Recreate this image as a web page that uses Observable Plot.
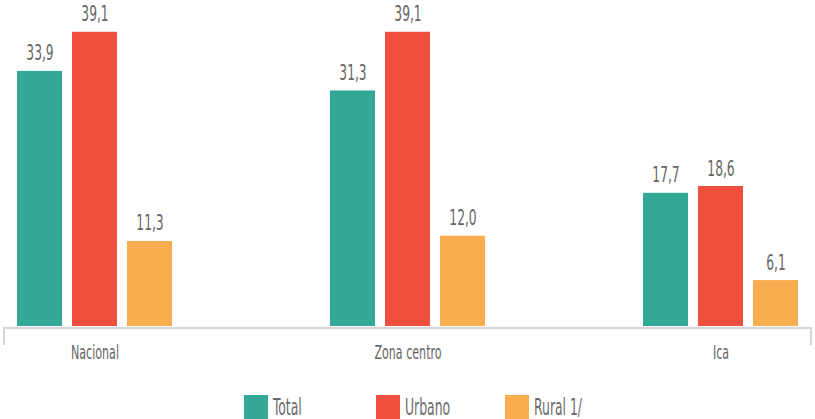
<!DOCTYPE html>
<html>
<head>
<meta charset="utf-8">
<script src="https://cdn.jsdelivr.net/npm/d3@7"></script>
<script src="https://cdn.jsdelivr.net/npm/@observablehq/plot@0.6"></script>
<style>
  body { margin: 0; background: #fff; }
  #chart { width: 815px; }
  #legend { display: flex; padding-left: 244px; margin-top: 14px; height: 25px; }
  #legend .item { display: flex; align-items: center; font-family: "DejaVu Sans Condensed", sans-serif; font-size: 23px; color: #6b6b6b; }
  #legend .sw { width: 24px; height: 24px; margin-right: 5px; flex: none; }
  #legend span { display: inline-block; transform: scaleX(0.6); transform-origin: left center; white-space: nowrap; }
</style>
</head>
<body>
<div id="chart"></div>
<script>
const groups = ["Nacional", "Zona centro", "Ica"];
const series = ["Total", "Urbano", "Rural 1/"];
const colors = ["#34A896", "#F04E3E", "#FAAD4E"];
const totalValues = [33.9, 31.3, 17.7];
const urbanoValues = [39.1, 39.1, 18.6];
const ruralValues = [11.3, 12.0, 6.1];

const seriesValues = [totalValues, urbanoValues, ruralValues];
const data = [];
groups.forEach((g, gi) => {
  series.forEach((s, si) => {
    data.push({group: g, serie: s, value: seriesValues[si][gi]});
  });
});

const fmt = v => v.toFixed(1).replace(".", ",");
const FONT = '"DejaVu Sans Condensed", sans-serif';

const plot = Plot.plot({
  width: 815,
  height: 380,
  marginLeft: 4,
  marginRight: 4,
  marginTop: 25,
  marginBottom: 54,
  style: {fontFamily: FONT, color: "#666"},
  fx: {domain: groups, paddingInner: 0.505, paddingOuter: 0.04, label: null, axis: null},
  x: {domain: series, paddingInner: 0.182, paddingOuter: 0, axis: null},
  y: {domain: [0, 40], axis: null},
  color: {domain: series, range: colors},
  marks: [
    Plot.barY(data, {fx: "group", x: "serie", y: "value", fill: "serie"}),
    Plot.text(data, {fx: "group", x: "serie", y: "value", text: d => fmt(d.value), dy: -11, lineAnchor: "bottom", fontSize: 21, fill: "#666"}),
    Plot.text(groups, {fx: d => d, text: d => d, frameAnchor: "bottom", lineAnchor: "bottom", dy: 32, fontSize: 19, fill: "#666"})
  ]
});

// horizontally condense text (narrow typeface look)
function condense(sel, s) {
  sel.each(function () {
    const x = this.getAttribute("x") || 0;
    const y = this.getAttribute("y") || 0;
    const t = this.getAttribute("transform") || "";
    this.removeAttribute("x");
    this.removeAttribute("y");
    this.setAttribute("transform", `${t} translate(${x},${y}) scale(${s},1)`);
  });
}
const svg = d3.select(plot);
condense(svg.selectAll("g[aria-label='text'] text"), 0.65);

// axis bracket along the baseline, built from the plot's own scales
const fxs = plot.scale("fx");
const ys = plot.scale("y");
const y0 = ys.apply(0);
const [r0, r1] = fxs.range;
svg.append("path")
  .attr("d", `M${r0},${y0 + 19}V${y0 + 2}H${r1}V${y0 + 19}`)
  .attr("fill", "none")
  .attr("stroke", "#d6d6d6")
  .attr("stroke-width", 2);

document.getElementById("chart").appendChild(plot);

const legend = document.createElement("div");
legend.id = "legend";
const widths = [132, 129, 120];
series.forEach((s, i) => {
  const it = document.createElement("div");
  it.className = "item";
  it.style.width = widths[i] + "px";
  const sw = document.createElement("div");
  sw.className = "sw";
  sw.style.background = colors[i];
  const t = document.createElement("span");
  t.textContent = s;
  it.appendChild(sw);
  it.appendChild(t);
  legend.appendChild(it);
});
document.getElementById("chart").appendChild(legend);
</script>
</body>
</html>
